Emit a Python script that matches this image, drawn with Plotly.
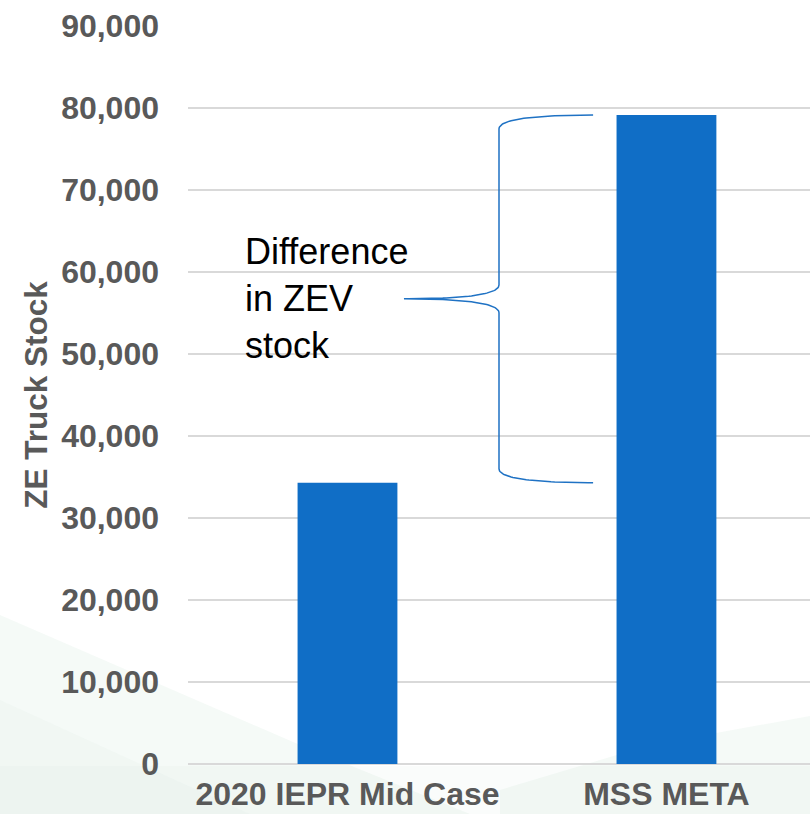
import numpy as np
import plotly.graph_objects as go

# ZE truck stock by forecast case
categories = ["2020 IEPR Mid Case", "MSS META"]
truck_stock = [34300, 79150]
y_ticks = [0, 10000, 20000, 30000, 40000, 50000, 60000, 70000, 80000, 90000]

BAR_BLUE = "#106ec6"
BRACE_BLUE = "#1f72c4"
GRAY_TEXT = "#595959"
GRID = "#d9d9d9"
FONT = "Liberation Sans, Arial, sans-serif"

x_pos = list(range(len(categories)))

fig = go.Figure()
fig.add_trace(go.Bar(
    x=x_pos, y=truck_stock, width=0.313,
    marker=dict(color=BAR_BLUE, line=dict(width=0)),
    hoverinfo="skip", showlegend=False,
))


def quad(p0, p1, p2, n=40):
    t = np.linspace(0, 1, n)[:, None]
    pts = (1 - t) ** 2 * np.array(p0) + 2 * (1 - t) * t * np.array(p1) + t ** 2 * np.array(p2)
    return pts[:, 0], pts[:, 1]


# curly brace spanning the gap between the two bars
y_low, y_high = min(truck_stock), max(truck_stock)
y_mid = (y_low + y_high) / 2
x_end, x_spine, x_tip = 0.77, 0.475, 0.177
curl = 1700

segs = [
    quad((x_end, y_high), (x_spine, y_high), (x_spine, y_high - curl)),
    quad((x_spine, y_mid + curl), (x_spine, y_mid), (x_tip, y_mid)),
    quad((x_tip, y_mid), (x_spine, y_mid), (x_spine, y_mid - curl)),
    quad((x_spine, y_low + curl), (x_spine, y_low), (x_end, y_low)),
]
bx = np.concatenate([s[0] for s in segs])
by = np.concatenate([s[1] for s in segs])
fig.add_trace(go.Scatter(
    x=bx, y=by, mode="lines",
    line=dict(color=BRACE_BLUE, width=1.5),
    hoverinfo="skip", showlegend=False,
))

fig.add_annotation(
    x=-0.328, y=y_mid, xref="x", yref="y",
    text="Difference<br>in ZEV<br>stock",
    showarrow=False, xanchor="left", yanchor="middle", align="left",
    font=dict(family=FONT, size=36, color="#000000"),
)

# faint decorative backdrop wedges
L, R, T, B = 188, 810, 26, 764


def px(x, y):
    return (x - L) / (R - L), (B - y) / (B - T)


def path(points):
    s = ""
    for i, (x, y) in enumerate(points):
        X, Y = px(x, y)
        s += ("M" if i == 0 else "L") + f"{X:.4f},{Y:.4f} "
    return s + "Z"


backdrop = [
    ([(0, 615), (300, 745), (470, 814), (0, 814)], "rgba(205,228,216,0.20)"),
    ([(0, 700), (250, 814), (0, 814)], "rgba(205,228,216,0.10)"),
    ([(500, 790), (650, 745), (810, 716), (810, 814), (500, 814)], "rgba(205,228,216,0.20)"),
    ([(0, 766), (810, 766), (810, 814), (0, 814)], "rgba(205,228,216,0.10)"),
]
for pts, col in backdrop:
    fig.add_shape(type="path", path=path(pts), xref="paper", yref="paper",
                  fillcolor=col, line=dict(width=0), layer="below")

fig.update_layout(
    width=810, height=814,
    margin=dict(l=188, r=0, t=26, b=50),
    paper_bgcolor="white", plot_bgcolor="rgba(0,0,0,0)",
    font=dict(family=FONT),
    xaxis=dict(
        range=[-0.5, 1.45], tickvals=x_pos, ticktext=categories,
        showgrid=False, zeroline=False, showline=False, ticks="",
        ticklabelstandoff=8, automargin=False,
        tickfont=dict(family=FONT, size=32, color=GRAY_TEXT, weight="bold"),
        fixedrange=True,
    ),
    yaxis=dict(
        range=[0, 90000], tickvals=y_ticks, tickformat=",d",
        showgrid=True, gridcolor=GRID, gridwidth=2,
        zeroline=True, zerolinecolor=GRID, zerolinewidth=2,
        showline=False, ticks="", ticklabelstandoff=28, automargin=False,
        tickfont=dict(family=FONT, size=32, color=GRAY_TEXT, weight="bold"),
        title=dict(text="ZE Truck Stock", standoff=4,
                   font=dict(family=FONT, size=31.5, color=GRAY_TEXT, weight="bold")),
        fixedrange=True,
    ),
    showlegend=False,
)

fig.write_html("out.html")
